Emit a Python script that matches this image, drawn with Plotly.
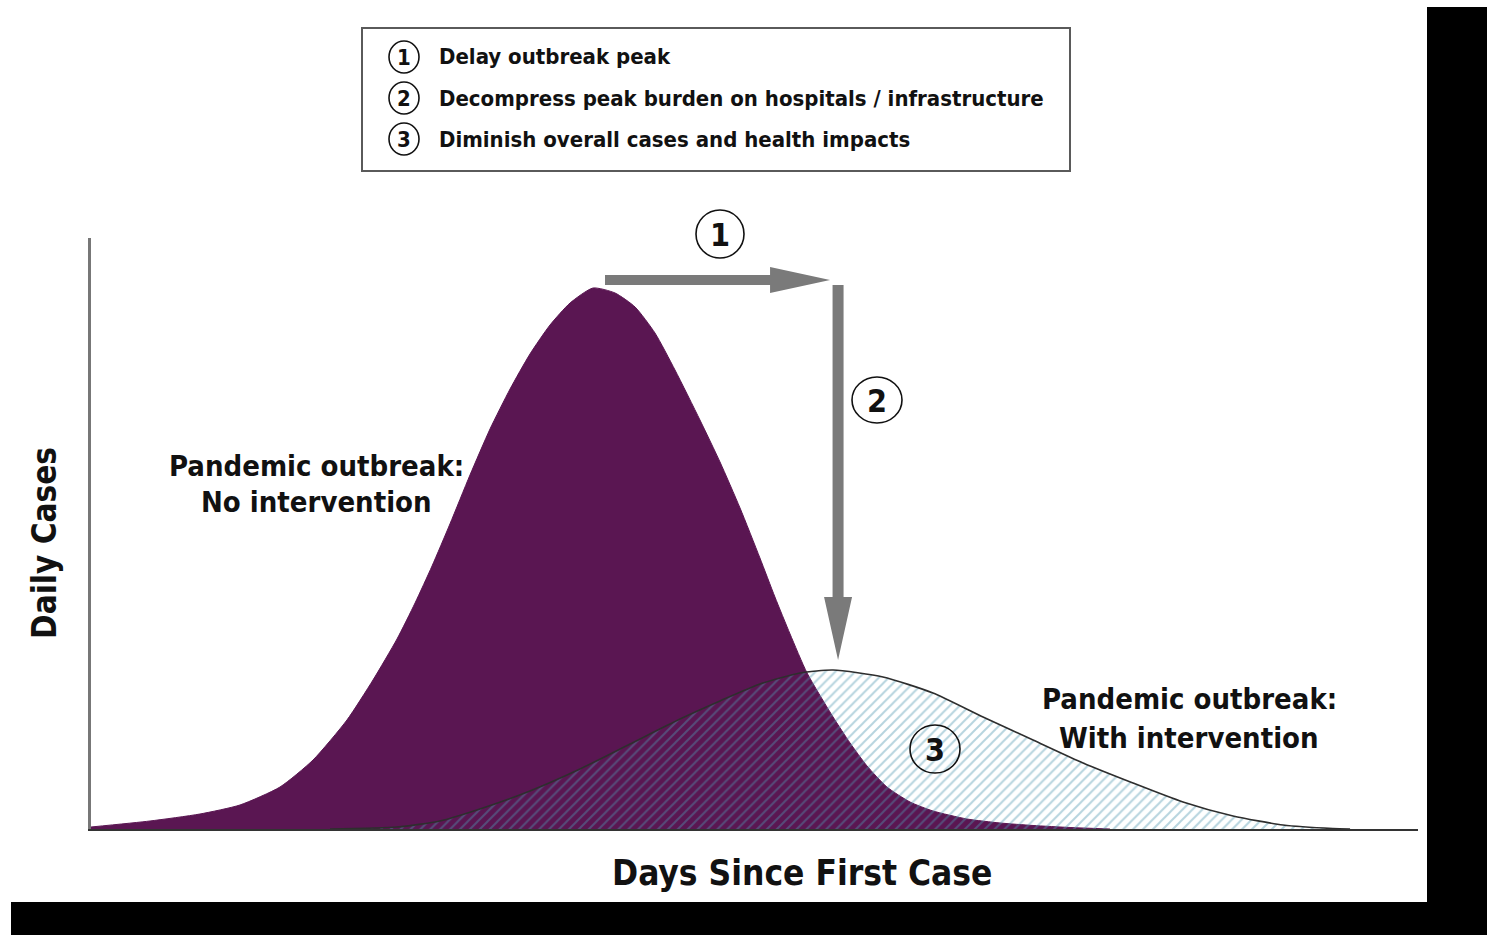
import plotly.graph_objects as go

W, H = 1487, 935

# ---- data ----
days_no_intervention = [0.00, 4.45, 8.21, 11.23, 14.24, 16.73, 19.29, 21.25, 23.06, 24.42,
                        25.70, 27.05, 28.56, 30.07, 31.58, 33.08, 34.59, 36.10, 37.83,
                        39.49, 41.00, 42.50, 44.01, 45.89, 47.40, 48.91, 50.41, 51.54, 52.68,
                        53.96, 55.92, 57.20, 58.48, 59.98, 61.72, 63.45, 66.01, 68.50, 70.99,
                        73.78, 76.79]
cases_no_intervention = [0.37, 1.48, 2.77, 4.44, 7.76, 12.75, 20.15, 27.54, 35.12, 41.77,
                         48.61, 56.38, 65.43, 73.94, 81.33, 87.80, 93.16, 97.23, 100.0,
                         99.08, 96.49, 91.68, 84.84, 75.60, 67.84, 59.33, 50.09, 42.88, 36.04,
                         28.84, 20.70, 15.90, 11.65, 7.76, 4.99, 3.33, 1.85, 1.11, 0.65,
                         0.28, 0.0]

days_with_intervention = [18.01, 23.06, 26.30, 29.31, 33.08, 36.85, 40.62, 44.39, 47.40, 50.41,
                          53.43, 55.92, 59.68, 63.45, 67.22, 70.99, 74.76, 78.52, 82.29, 86.06,
                          89.83, 93.59, 94.88]
cases_with_intervention = [0.0, 0.37, 1.48, 3.70, 7.02, 11.09, 15.71, 20.33, 23.66, 26.80,
                           28.84, 29.39, 28.10, 25.14, 20.70, 16.45, 12.20, 8.50, 4.99, 2.40,
                           0.74, 0.09, 0.0]

goal_numbers = ["1", "2", "3"]
goal_texts = ["Delay outbreak peak",
              "Decompress peak burden on hospitals / infrastructure",
              "Diminish overall cases and health impacts"]
curve_labels = [["Pandemic outbreak:", "No intervention"],
                ["Pandemic outbreak:", "With intervention"]]
x_title = "Days Since First Case"
y_title = "Daily Cases"

# ---- style ----
FONT = "DejaVu Sans Condensed, Liberation Sans Narrow, Arial Narrow, Roboto, sans-serif"
PURPLE = "#5a1652"
ARROW = "#7a7a7a"

# plot area in pixels
PX_L, PX_R, PX_B, PX_T = 91, 1418, 829, 238
X_MAX = 100.0
PX_PER_DAY = (PX_R - PX_L) / X_MAX
PX_PER_CASE = 5.41
Y_MAX = (PX_B - PX_T) / PX_PER_CASE


def px(x):
    return x / W


def py(y):
    return 1 - y / H


fig = go.Figure()
fig.add_trace(go.Scatter(
    x=days_no_intervention, y=cases_no_intervention, mode="lines",
    line=dict(color=PURPLE, width=1, shape="spline", smoothing=0.6),
    fill="tozeroy", fillcolor=PURPLE, hoverinfo="skip"))
fig.add_trace(go.Scatter(
    x=days_with_intervention, y=cases_with_intervention, mode="lines",
    line=dict(color="#2e2e2e", width=1.6, shape="spline", smoothing=0.6),
    fill="tozeroy", fillcolor="rgba(0,0,0,0)",
    fillpattern=dict(shape="/", size=7, solidity=0.28,
                     fgcolor="#4f97b0", fgopacity=0.42, bgcolor="rgba(0,0,0,0)"),
    hoverinfo="skip"))

# ---- arrows anchored on the two peaks ----
i_no = cases_no_intervention.index(max(cases_no_intervention))
i_wi = cases_with_intervention.index(max(cases_with_intervention))
pk_no_x, pk_no_y = days_no_intervention[i_no], cases_no_intervention[i_no]
pk_wi_x, pk_wi_y = days_with_intervention[i_wi], cases_with_intervention[i_wi]


def dx(p):
    return p / PX_PER_DAY


def dy(p):
    return p / PX_PER_CASE


hy = pk_no_y + dy(8)           # horizontal arrow level
hx0 = pk_no_x + dx(12)
hx1 = pk_wi_x - dx(3)          # tip
hhead = hx1 - dx(60)
fig.add_shape(type="path", xref="x", yref="y", fillcolor=ARROW, line=dict(width=0),
              path=(f"M{hx0},{hy + dy(5)} L{hhead},{hy + dy(5)} L{hhead},{hy + dy(13)} "
                    f"L{hx1},{hy} L{hhead},{hy - dy(13)} L{hhead},{hy - dy(5)} "
                    f"L{hx0},{hy - dy(5)} Z"))

vx = pk_wi_x + dx(5)
vy0 = hy - dy(5)
vy1 = pk_wi_y + dy(10)         # tip
vhead = vy1 + dy(63)
fig.add_shape(type="path", xref="x", yref="y", fillcolor=ARROW, line=dict(width=0),
              path=(f"M{vx - dx(5.5)},{vy0} L{vx + dx(5.5)},{vy0} L{vx + dx(5.5)},{vhead} "
                    f"L{vx + dx(14)},{vhead} L{vx},{vy1} L{vx - dx(14)},{vhead} "
                    f"L{vx - dx(5.5)},{vhead} Z"))

annotations = []


def circled(cx, cy, rx, ry, label, size):
    fig.add_shape(type="circle", xref="paper", yref="paper",
                  x0=px(cx - rx), x1=px(cx + rx), y0=py(cy + ry), y1=py(cy - ry),
                  line=dict(color="#111", width=1.6), fillcolor="rgba(255,255,255,0)")
    annotations.append(dict(x=px(cx), y=py(cy + 1), xref="paper", yref="paper",
                            text=f"<b>{label}</b>", showarrow=False,
                            font=dict(family=FONT, size=size, color="#111"),
                            xanchor="center", yanchor="middle"))


# legend box
fig.add_shape(type="rect", xref="paper", yref="paper",
              x0=px(362), x1=px(1070), y0=py(171), y1=py(28),
              line=dict(color="#5a5a5a", width=2), fillcolor="white")
for k, (num, txt) in enumerate(zip(goal_numbers, goal_texts)):
    yc = 57 + k * 41
    circled(404, yc, 15, 16, num, 22)
    annotations.append(dict(x=px(437), y=py(yc), xref="paper", yref="paper",
                            text=f"<b>{txt}</b>", showarrow=False,
                            font=dict(family=FONT, size=22, color="#111"),
                            xanchor="left", yanchor="middle"))

# numbered markers on the chart
circled(720, 234, 24, 24, goal_numbers[0], 32)
circled(877, 400, 25, 23, goal_numbers[1], 32)
circled(935, 749, 25, 24, goal_numbers[2], 32)

# curve labels
for (cx, y1, y2), lines in zip([(316, 466, 502), (1189, 699, 738)], curve_labels):
    for yy, t in zip((y1, y2), lines):
        annotations.append(dict(x=px(cx), y=py(yy), xref="paper", yref="paper",
                                text=f"<b>{t}</b>", showarrow=False,
                                font=dict(family=FONT, size=29, color="#111"),
                                xanchor="center", yanchor="middle"))

# axis titles
annotations.append(dict(x=px(802), y=py(873), xref="paper", yref="paper",
                        text=f"<b>{x_title}</b>", showarrow=False,
                        font=dict(family=FONT, size=35, color="#111"),
                        xanchor="center", yanchor="middle"))
annotations.append(dict(x=px(44), y=py(543), xref="paper", yref="paper",
                        text=f"<b>{y_title}</b>", showarrow=False, textangle=-90,
                        font=dict(family=FONT, size=33, color="#111"),
                        xanchor="center", yanchor="middle"))

# black frame strips (photo edges)
fig.add_shape(type="rect", xref="paper", yref="paper", x0=px(1427), x1=1, y0=0, y1=py(7),
              line=dict(width=0), fillcolor="black")
fig.add_shape(type="rect", xref="paper", yref="paper", x0=px(11), x1=1, y0=0, y1=py(902),
              line=dict(width=0), fillcolor="black")

fig.update_layout(
    width=W, height=H, autosize=False, showlegend=False,
    margin=dict(l=0, r=0, t=0, b=0),
    paper_bgcolor="white", plot_bgcolor="rgba(0,0,0,0)",
    annotations=annotations,
    xaxis=dict(domain=[px(PX_L), px(PX_R)], range=[0, X_MAX], showline=True,
               linecolor="#333", linewidth=2, showgrid=False, zeroline=False,
               showticklabels=False, ticks="", fixedrange=True),
    yaxis=dict(domain=[py(PX_B), py(PX_T)], range=[0, Y_MAX], showline=True,
               linecolor="#777", linewidth=3, showgrid=False, zeroline=False,
               showticklabels=False, ticks="", fixedrange=True),
)

fig.write_html("out.html", config={"displayModeBar": False},
               post_script="document.body.style.margin='0';document.body.style.overflow='hidden';")
